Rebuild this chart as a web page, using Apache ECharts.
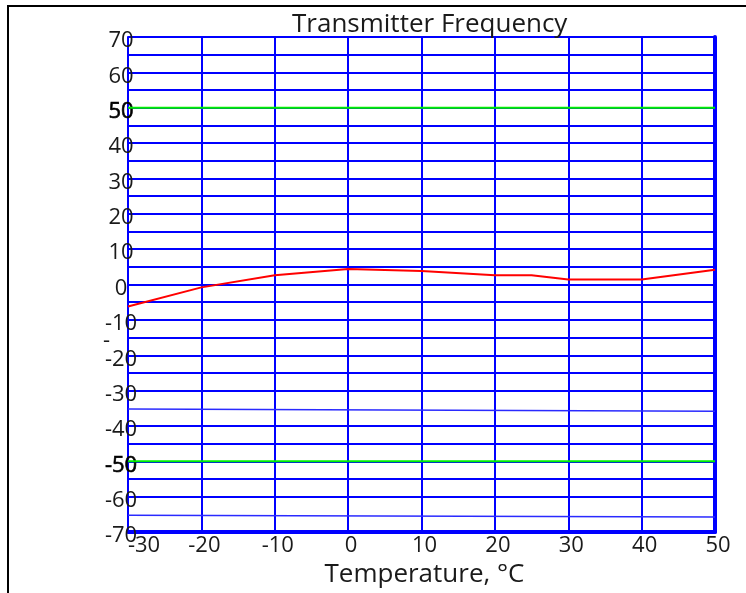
<!DOCTYPE html>
<html>
<head>
<meta charset="utf-8">
<script src="https://cdn.jsdelivr.net/npm/echarts@6/dist/echarts.min.js"></script>
<style>
  html, body { margin: 0; padding: 0; background: #fff; }
  #frame { position: absolute; left: 7px; top: 5px; width: 746px; height: 600px;
           border-top: 2px solid #000; border-left: 2px solid #000; box-sizing: border-box; }
  #chart { position: absolute; left: 0; top: 0; width: 746px; height: 593px; }
</style>
</head>
<body>
<div id="frame"></div>
<div id="chart"></div>
<script>
// ---- data ----
const temperatures = [-30, -20, -10, 0, 10, 20, 25, 30, 40, 50];
const frequencyError = [-6.2, -0.8, 2.6, 4.4, 3.8, 2.6, 2.6, 1.4, 1.4, 4.2];
const limitX = [-30, 50];
const upperLimit = [50, 50];
const lowerLimit = [-50, -50];
const refLineA = [-35.2, -35.8];
const refLineB = [-65.2, -65.7];
const xTicks = [-30, -20, -10, 0, 10, 20, 30, 40, 50];
const yTicks = [70, 60, 50, 40, 30, 20, 10, 0, -10, -20, -30, -40, -50, -60, -70];

const FONT = '"Open Sans", "Liberation Sans", sans-serif';
const BLUE = '#0000ff';
const LBL = 22;

// split line colours: one per 5-unit tick from -70 to 70; hide -65 and -35
const splitColors = [];
for (let v = -70; v <= 70; v += 5) {
  splitColors.push((v === -65 || v === -35) ? 'rgba(0,0,0,0)' : BLUE);
}

const chart = echarts.init(document.getElementById('chart'));
chart.setOption({
  animation: false,
  backgroundColor: 'transparent',
  title: {
    text: 'Transmitter Frequency',
    left: 287, top: 7,
    textStyle: { fontFamily: FONT, fontSize: 26, fontWeight: 'normal', color: '#1a1a1a' }
  },
  grid: { left: 128, right: 31, top: 37, bottom: 60 },
  xAxis: {
    type: 'value', min: -30, max: 50, interval: 10,
    name: 'Temperature, °C', nameLocation: 'middle', nameGap: 26,
    nameTextStyle: { fontFamily: FONT, fontSize: 26, color: '#1a1a1a', padding: [0, 0, 0, 6] },
    axisLine: { show: true, onZero: false, lineStyle: { color: BLUE, width: 4 } },
    axisTick: { show: false },
    splitLine: { show: true, lineStyle: { color: BLUE, width: 2 } },
    axisLabel: {
      margin: 3, fontFamily: FONT, fontSize: LBL, color: '#1a1a1a',
      formatter: function (v) {
        if (xTicks.indexOf(v) < 0) return '';
        return v === -30 ? '{f|' + v + '}' : '{n|' + v + '}';
      },
      rich: {
        f: { fontFamily: FONT, fontSize: LBL, color: '#1a1a1a', padding: [0, 0, 0, 32] },
        n: { fontFamily: FONT, fontSize: LBL, color: '#1a1a1a', padding: [0, 0, 0, 6] }
      }
    }
  },
  yAxis: [{
    type: 'value', min: -70, max: 70, interval: 5,
    axisLine: { show: true, onZero: false, lineStyle: { color: BLUE, width: 2 } },
    axisTick: { show: false },
    splitLine: { show: true, lineStyle: { color: splitColors, width: 2 } },
    axisLabel: {
      margin: 7, align: 'center', fontFamily: FONT, fontSize: LBL, color: '#1a1a1a',
      formatter: function (v) {
        if (v === -15) return '{d|-}';
        if (yTicks.indexOf(v) < 0) return '';
        if (v === 50 || v === -50) return '{b|' + v + '}';
        return '{n|' + v + '}';
      },
      rich: {
        n: { fontFamily: FONT, fontSize: LBL, color: '#1a1a1a', padding: [8, 0, 0, 0] },
        b: { fontFamily: FONT, fontSize: LBL, color: '#000', textBorderColor: '#000', textBorderWidth: 0.6, padding: [8, 0, 0, 0] },
        d: { fontFamily: FONT, fontSize: LBL, color: '#1a1a1a', padding: [6, 29, 0, 0] }
      }
    }
  }, {
    type: 'value', min: -70, max: 70, position: 'right',
    axisLine: { show: true, onZero: false, lineStyle: { color: BLUE, width: 4 } },
    axisTick: { show: false }, axisLabel: { show: false }, splitLine: { show: false }
  }],
  series: [
    { type: 'line', data: limitX.map((x, i) => [x, upperLimit[i]]), symbol: 'none',
      lineStyle: { color: '#00ee00', width: 2 }, z: 3 },
    { type: 'line', data: limitX.map((x, i) => [x, lowerLimit[i]]), symbol: 'none',
      lineStyle: { color: '#00ee00', width: 2 }, z: 3 },
    { type: 'line', data: limitX.map((x, i) => [x, refLineA[i]]), symbol: 'none',
      lineStyle: { color: '#2a2aff', width: 1.5 }, z: 2 },
    { type: 'line', data: limitX.map((x, i) => [x, refLineB[i]]), symbol: 'none',
      lineStyle: { color: '#2a2aff', width: 1.5 }, z: 2 },
    { type: 'line', data: temperatures.map((x, i) => [x, frequencyError[i]]), symbol: 'none',
      lineStyle: { color: '#ff0000', width: 2 }, z: 4 }
  ]
});
</script>
</body>
</html>
